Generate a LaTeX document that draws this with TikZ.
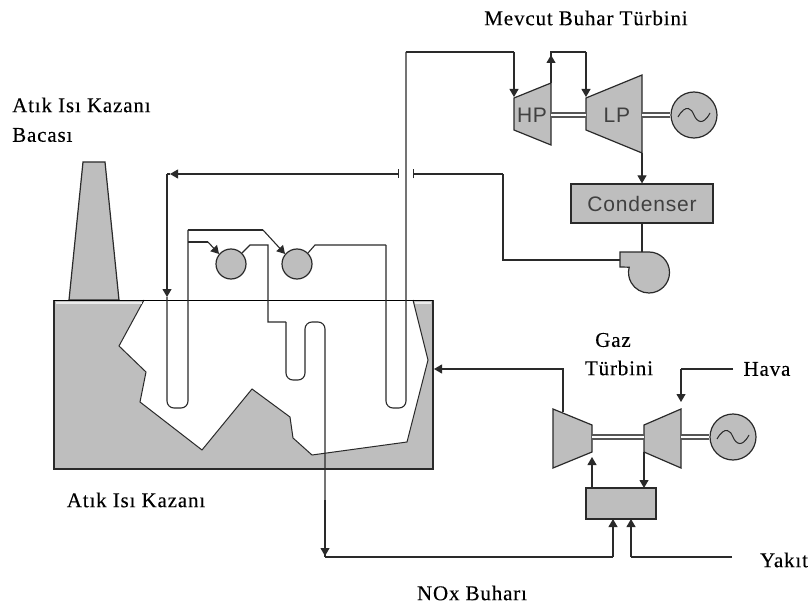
\documentclass[tikz,border=0pt]{standalone}
\usepackage{fontspec}
\setmainfont[LetterSpace=4,FakeBold=0.25]{Liberation Serif}
\setsansfont[LetterSpace=4]{Liberation Sans}
\usetikzlibrary{arrows.meta, positioning}

\definecolor{plantgray}{HTML}{BEBEBE}
\definecolor{pipecol}{HTML}{2A2A2A}

\begin{document}
\begin{tikzpicture}[
	x=1pt, y=-1pt,
	pipe/.style={draw=pipecol, line width=1.1pt},
	flow/.style={pipe, -{Triangle[width=9pt,length=8pt]}},
	stub/.style={pipe, {Bar[width=9pt,line width=.8pt]}-},
	teeflow/.style={pipe, {Bar[width=9pt,line width=.8pt]}-{Triangle[width=9pt,length=8pt]}},
	shell/.style={draw=pipecol, line width=1.2pt, fill=plantgray},
	shaft/.style={draw=pipecol!80, line width=1.8pt, double=white, double distance=2.4pt},
	wave/.style={draw=pipecol, line width=1pt},
	drum/.style={circle, shell, inner sep=0pt, minimum size=30pt},
	gen/.style={circle, shell, inner sep=0pt, minimum size=46pt},
	tag/.style={inner sep=0pt, font=\sffamily\fontsize{21}{21}\selectfont, text=black!75},
	unit/.style={rectangle, shell, inner sep=0pt},
	lab/.style={inner sep=0pt, font=\fontsize{21}{24}\selectfont, align=center}
	]

	% Frame
	\useasboundingbox (0,0) rectangle (811,604);

	% Stack
	\draw[shell] (69,300) -- (83,162) -- (105,162) -- (119,300) -- cycle;

	% Boiler with white cut-away
	\coordinate (boilerNW) at (54,300);
	\coordinate (boilerSE) at (433,469);
	\coordinate (boilerin) at (434,369);
	\fill[plantgray] (boilerNW) rectangle (boilerSE);
	\draw[draw=pipecol, line width=1pt, fill=white] (144,300) -- (119,346) -- (146,372) -- (140,402) -- (202,450)
		-- (252,389) -- (290,417) -- (293,438) -- (312,455) -- (407,442) -- (428,360) -- (413,300);
	\draw[draw=pipecol, line width=1.4pt] (boilerNW) -- (54,469) -- (boilerSE) -- (433,300);
	\draw[white!85!gray, line width=1.4pt] (56,303) -- (142,303) (415,303) -- (431,303);
	\draw[draw=black, line width=1pt] (boilerNW) -- (433,300);

	% Steam drums
	\node[drum] (drumA) at (231,264) {};
	\node[drum] (drumB) at (297,264) {};

	% Evaporator and superheater tubes
	\coordinate (tickL) at (399,174);
	\coordinate (tickR) at (413,174);
	\coordinate (tubeC) at (167,174);
	\coordinate (tubeAin) at (167,297);
	\coordinate (tubeAtop) at (188,230);
	\coordinate (teeA) at (188,242);
	\coordinate (bendB) at (263,230);
	\coordinate (stubA) at (208,242);
	\coordinate (drumAout) at (250,245);
	\coordinate (drumBout) at (315,245);
	\coordinate (steamT) at (406,52);
	\coordinate (nox) at (325,557);

	\draw[teeflow] (tickL) -- (170,174);
	\draw[pipe] (tubeC) -- (170,174);
	\draw[flow] (tubeC) -- (tubeAin);
	\draw[pipe, rounded corners=7pt] (tubeAin) -- (167,408) -- (188,408) -- (tubeAtop);
	\draw[pipe] (tubeAtop) -- (bendB);
	\draw[flow] (bendB) -- (drumB.140);
	\draw[pipe] (teeA) -- (stubA);
	\draw[flow] (stubA) -- (drumA.140);
	\draw[pipe] (drumA.45) -- (drumAout) -- (268,245) -- (268,322) -- (286,322);
	\draw[pipe, rounded corners=7pt] (286,322) -- (286,380) -- (305,380) -- (305,322) -- (325,322) -- (325,500);
	\draw[flow] (325,500) -- (325,556);
	\draw[pipe] (325,550) -- (nox);
	\draw[pipe] (drumB.45) -- (drumBout) -- (386,245);
	\draw[pipe, rounded corners=7pt] (386,245) -- (386,408) -- (406,408) -- (steamT);

	% Steam turbines
	\coordinate (hpNW) at (514,98);
	\coordinate (hpNE) at (551,83);
	\coordinate (hpSE) at (551,145);
	\coordinate (hpSW) at (514,130);
	\coordinate (lpNW) at (586,98);
	\coordinate (lpNE) at (642,75);
	\coordinate (lpSE) at (642,153);
	\coordinate (lpSW) at (586,130);
	\coordinate (hpshaftL) at (551,115);
	\coordinate (hpshaftR) at (586,115);
	\coordinate (lpshaft) at (642,115);
	\draw[shell] (hpNW) -- (hpNE) -- (hpSE) -- (hpSW) -- cycle;
	\draw[shell] (lpNW) -- (lpNE) -- (lpSE) -- (lpSW) -- cycle;
	\node[tag] (hp) at (532,115) {HP};
	\node[tag] (lp) at (617,115) {LP};
	\node[gen] (genS) at (694,115) {};
	\draw[wave] (678,117) .. controls (686,103) and (692,109) .. (694,115) .. controls (697,122) and (703,126) .. (710,113);
	\draw[shaft] (hpshaftL) -- (hpshaftR);
	\draw[shaft] (lpshaft) -- (genS);

	% Steam lines
	\coordinate (hpin) at (514,97);
	\coordinate (hpout) at (551,83);
	\coordinate (lpin) at (586,97);
	\draw[pipe] (steamT) -- (514,52);
	\draw[flow] (514,52) -- (hpin);
	\draw[flow] (hpout) -- (551,55);
	\draw[pipe] (551,60) -- (551,52) -- (586,52);
	\draw[flow] (586,52) -- (lpin);

	% Condenser and pump
	\node[unit, minimum width=142pt, minimum height=39pt, font=\sffamily\fontsize{21}{21}\selectfont, text=black!75] (cond) at (642,203.5) {Condenser};
	\coordinate (pumpin) at (642,253);
	\coordinate (pumpout) at (620,260);
	\coordinate (bendP) at (503,260);
	\coordinate (bendQ) at (503,174);
	\draw[flow] (lpSE) -- (cond);
	\draw[pipe] (cond) -- (pumpin);
	\draw[shell] (620,252) -- (649,252) arc (-90:195:20.5) -- (620,267) -- cycle;
	\draw[pipe] (pumpout) -- (bendP) -- (bendQ);
	\draw[stub] (tickR) -- (bendQ);

	% Gas turbine
	\coordinate (gtNW) at (553,409);
	\coordinate (gtNE) at (592,425);
	\coordinate (gtSE) at (592,452);
	\coordinate (gtSW) at (553,468);
	\coordinate (acNW) at (644,425);
	\coordinate (acNE) at (681,409);
	\coordinate (acSE) at (681,468);
	\coordinate (acSW) at (644,452);
	\draw[shell] (gtNW) -- (gtNE) -- (gtSE) -- (gtSW) -- cycle;
	\draw[shell] (acNW) -- (acNE) -- (acSE) -- (acSW) -- cycle;
	\node[gen] (genG) at (733,437) {};
	\draw[wave] (717,439) .. controls (725,425) and (731,431) .. (733,437) .. controls (736,444) and (742,448) .. (749,435);
	\draw[shaft] (592,437) -- (644,437);
	\draw[shaft] (681,437) -- (genG);
	\node[unit, minimum width=70pt, minimum height=31pt] (comb) at (621,503.5) {};

	% Gas lines
	\coordinate (gtout) at (563,412);
	\coordinate (airin) at (733,369);
	\coordinate (airbend) at (681,369);
	\coordinate (fuelin) at (732,557);
	\coordinate (fuelbend) at (631,557);
	\coordinate (noxbend) at (613,557);
	\draw[flow] (gtout) |- (boilerin);
	\draw[pipe] (airin) -- (airbend);
	\draw[flow] (airbend) -- (681,402);
	\draw[flow] (acSW) -- (644,488);
	\draw[flow] (592,488) -- (592,457);
	\draw[pipe] (nox) -- (noxbend);
	\draw[flow] (noxbend) -- (613,519);
	\draw[pipe] (fuelin) -- (fuelbend);
	\draw[flow] (fuelbend) -- (631,519);

	% Labels
	\node[lab] (lblsteam) at (586,18) {Mevcut Buhar Türbini};
	\node[lab, anchor=west] (lblstack) at (12,105) {Atık Isı Kazanı};
	\node[lab, anchor=west] (lblstack2) at (12,135) {Bacası};
	\node[lab] (lblboiler) at (136,500) {Atık Isı Kazanı};
	\node[lab] (lblgas) at (613,340) {Gaz};
	\node[lab] (lblgas2) at (619,368) {Türbini};
	\node[lab] (lblair) at (767,369) {Hava};
	\node[lab] (lblfuel) at (784,560) {Yakıt};
	\node[lab] (lblnox) at (472,593) {NOx Buharı};

\end{tikzpicture}
\end{document}
